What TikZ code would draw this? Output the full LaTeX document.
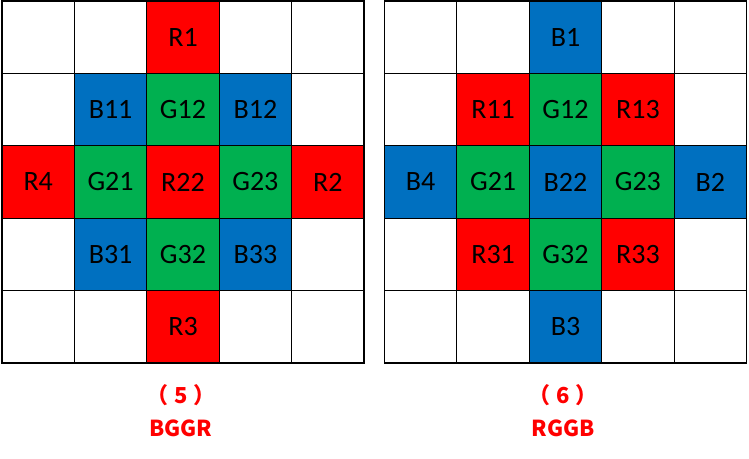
\documentclass[tikz,border=0pt]{standalone}
\usepackage{fontspec}
\setmainfont{Carlito}
\newfontfamily\cjk{Noto Sans CJK SC}
\usepackage{tikz}
\usetikzlibrary{positioning}
\definecolor{clrR}{RGB}{255,  0,  0}
\definecolor{clrG}{RGB}{  0,176, 80}
\definecolor{clrB}{RGB}{  0,112,192}
\tikzset{
  cell/.style={rectangle, draw=black, line width=0.8pt, fill=white,
    minimum width=54.3pt, minimum height=54.3pt, inner sep=0pt, outer sep=0pt,
    font=\fontsize{21}{24}\selectfont},
  rcell/.style={cell, fill=clrR},
  gcell/.style={cell, fill=clrG},
  bcell/.style={cell, fill=clrB},
  caption/.style={font=\cjk\bfseries\fontsize{16.5}{19}\selectfont, text=clrR,
    anchor=base, inner sep=0pt},
}
\begin{document}
\begin{tikzpicture}[x=0.75pt, y=-0.75pt]
\useasboundingbox (0,0) rectangle (749,458);
% blank grids
\foreach \gx/\gn in {2/L, 384.5/R} {
  \foreach \c in {1,...,5} {
    \foreach \r in {1,...,5} {
      \node[cell] (\gn-\c-\r) at ({\gx+72.4*(\c-0.5)}, {1+72.4*(\r-0.5)}) {};
    }
  }
}
% BGGR
\foreach \c/\r/\s/\t in {3/1/rcell/R1, 2/2/bcell/B11, 3/2/gcell/G12, 4/2/bcell/B12,
    1/3/rcell/R4, 2/3/gcell/G21, 3/3/rcell/R22, 4/3/gcell/G23, 5/3/rcell/R2,
    2/4/bcell/B31, 3/4/gcell/G32, 4/4/bcell/B33, 3/5/rcell/R3} {
  \node[\s] at (L-\c-\r) {\t};
}
% RGGB
\foreach \c/\r/\s/\t in {3/1/bcell/B1, 2/2/rcell/R11, 3/2/gcell/G12, 4/2/rcell/R13,
    1/3/bcell/B4, 2/3/gcell/G21, 3/3/bcell/B22, 4/3/gcell/G23, 5/3/bcell/B2,
    2/4/rcell/R31, 3/4/gcell/G32, 4/4/rcell/R33, 3/5/bcell/B3} {
  \node[\s] at (R-\c-\r) {\t};
}
% captions
\node[caption] (capL) at (181,403) {（\kern4pt 5\kern4pt）};
\node[caption] (nameL) at (181,436) {BGGR};
\node[caption] (capR) at (563,403) {（\kern4pt 6\kern4pt）};
\node[caption] (nameR) at (563,436) {RGGB};
\end{tikzpicture}
\end{document}
